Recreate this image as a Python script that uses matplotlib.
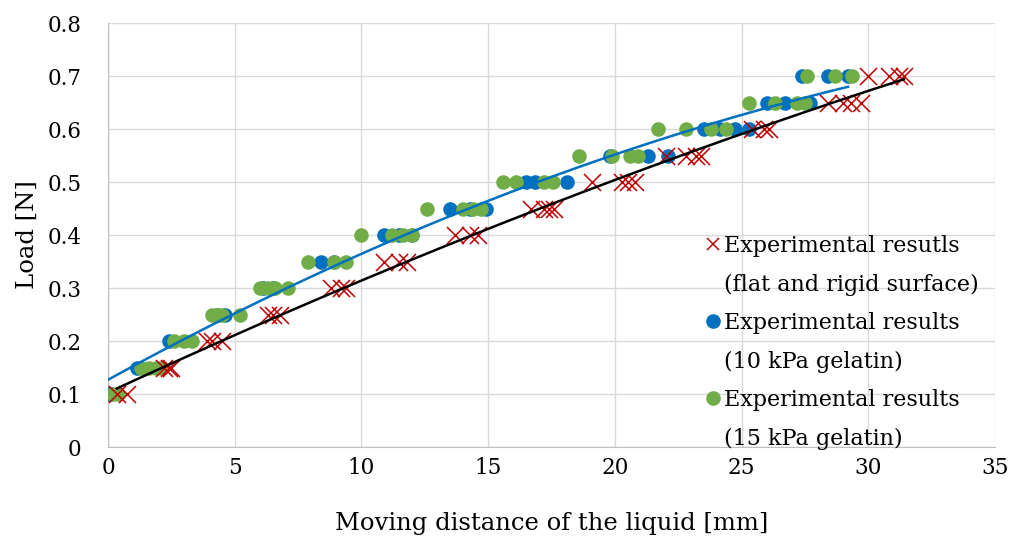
import numpy as np
import matplotlib
matplotlib.use("Agg")
import matplotlib.pyplot as plt
from matplotlib.lines import Line2D

plt.rcParams['font.family'] = ['DejaVu Serif']

# flat and rigid surface (red crosses)
flat_x = [0.35, 0.75,
          2.2, 2.4, 2.5,
          3.9, 4.1, 4.5,
          6.3, 6.5, 6.8,
          8.8, 9.2, 9.4,
          10.9, 11.5, 11.8,
          13.7, 14.3, 14.6,
          16.7, 17.2, 17.4, 17.6,
          19.1, 20.3, 20.5, 20.8,
          22.0, 22.8, 23.2, 23.4,
          25.4, 25.9, 26.1,
          28.4, 29.0, 29.3, 29.7,
          30.0, 30.8, 31.2, 31.4]
flat_y = [0.1, 0.1,
          0.15, 0.15, 0.15,
          0.2, 0.2, 0.2,
          0.25, 0.25, 0.25,
          0.3, 0.3, 0.3,
          0.35, 0.35, 0.35,
          0.4, 0.4, 0.4,
          0.45, 0.45, 0.45, 0.45,
          0.5, 0.5, 0.5, 0.5,
          0.55, 0.55, 0.55, 0.55,
          0.6, 0.6, 0.6,
          0.65, 0.65, 0.65, 0.65,
          0.7, 0.7, 0.7, 0.7]

# 10 kPa gelatin (blue)
g10_x = [0.0, 0.1, 1.15, 2.4, 4.3, 4.6, 6.1, 6.5, 8.4, 8.9,
         10.9, 11.5, 12.0, 13.5, 14.3, 14.9, 16.5, 16.85, 18.1,
         19.8, 21.3, 22.1, 23.5, 24.15, 24.75, 25.3,
         26.0, 26.7, 27.7, 27.4, 28.4, 29.2]
g10_y = [0.1, 0.1, 0.15, 0.2, 0.25, 0.25, 0.3, 0.3, 0.35, 0.35,
         0.4, 0.4, 0.4, 0.45, 0.45, 0.45, 0.5, 0.5, 0.5,
         0.55, 0.55, 0.55, 0.6, 0.6, 0.6, 0.6,
         0.65, 0.65, 0.65, 0.7, 0.7, 0.7]

# 15 kPa gelatin (green)
g15_x = [0.2, 0.4, 1.3, 1.6, 1.9, 2.1, 2.6, 3.0, 3.3,
         4.1, 4.3, 4.5, 5.2, 6.0, 6.3, 6.6, 7.1,
         7.9, 8.9, 9.4, 10.0, 11.2, 11.65, 12.0,
         12.6, 14.0, 14.4, 14.7, 15.6, 16.1, 17.2, 17.55,
         18.6, 19.9, 20.6, 20.9, 21.7, 22.8, 23.8, 24.4,
         25.3, 26.3, 27.2, 27.5, 27.6, 28.7, 29.35]
g15_y = [0.1, 0.1, 0.15, 0.15, 0.15, 0.15, 0.2, 0.2, 0.2,
         0.25, 0.25, 0.25, 0.25, 0.3, 0.3, 0.3, 0.3,
         0.35, 0.35, 0.35, 0.4, 0.4, 0.4, 0.4,
         0.45, 0.45, 0.45, 0.45, 0.5, 0.5, 0.5, 0.5,
         0.55, 0.55, 0.55, 0.55, 0.6, 0.6, 0.6, 0.6,
         0.65, 0.65, 0.65, 0.65, 0.7, 0.7, 0.7]

red = "#C00000"
blue = "#0070C0"
green = "#70AD47"

fig = plt.figure(figsize=(10.11, 5.36), dpi=100)
ax = fig.add_axes([0.1068, 0.166, 0.8774, 0.791])

ax.scatter(g10_x, g10_y, s=110, color=blue, zorder=3, linewidths=0)
ax.scatter(g15_x, g15_y, s=110, color=green, zorder=4, linewidths=0)
ax.scatter(flat_x, flat_y, s=150, marker="x", color=red, linewidths=1.1, zorder=5)

# polynomial trendlines (order 2), as in the spreadsheet
c_flat = np.polyfit(flat_x, flat_y, 2)
xf = np.linspace(min(flat_x), max(flat_x), 200)
ax.plot(xf, np.polyval(c_flat, xf), color="black", lw=1.8, zorder=6)

c_g10 = np.polyfit(g10_x, g10_y, 2)
xb = np.linspace(min(g10_x), max(g10_x), 200)
ax.plot(xb, np.polyval(c_g10, xb), color=blue, lw=1.8, zorder=6)

ax.set_xlim(0, 35)
ax.set_ylim(0, 0.8)
ax.set_xticks(np.arange(0, 36, 5))
ax.set_yticks(np.arange(0, 0.81, 0.1))
ax.set_yticklabels(["0", "0.1", "0.2", "0.3", "0.4", "0.5", "0.6", "0.7", "0.8"])
ax.tick_params(length=0, labelsize=15.5)
ax.tick_params(axis="y", pad=19)
ax.tick_params(axis="x", pad=7)
ax.grid(True, color="#D9D9D9", lw=1)
ax.set_axisbelow(True)
for s in ["top", "right"]:
    ax.spines[s].set_visible(False)
for s in ["left", "bottom"]:
    ax.spines[s].set_color("#BFBFBF")

ax.set_xlabel("Moving distance of the liquid [mm]", fontsize=17.5, labelpad=24)
ax.set_ylabel("Load [N]", fontsize=17.5, labelpad=6)

blank = Line2D([], [], linestyle="none")
handles = [Line2D([], [], marker="x", color=red, linestyle="none", markersize=9, mew=1.1),
           blank,
           Line2D([], [], marker="o", color=blue, linestyle="none", markersize=9.5),
           blank,
           Line2D([], [], marker="o", color=green, linestyle="none", markersize=9.5),
           blank]
labels = ["Experimental resutls", "(flat and rigid surface)",
          "Experimental results", "(10 kPa gelatin)",
          "Experimental results", "(15 kPa gelatin)"]
ax.legend(handles, labels, loc="lower left", bbox_to_anchor=(0.666, -0.027),
          frameon=False, fontsize=16, handlelength=0.5, handletextpad=0.25,
          labelspacing=0.74, borderaxespad=0.0)

fig.savefig("out.png", dpi=100)
